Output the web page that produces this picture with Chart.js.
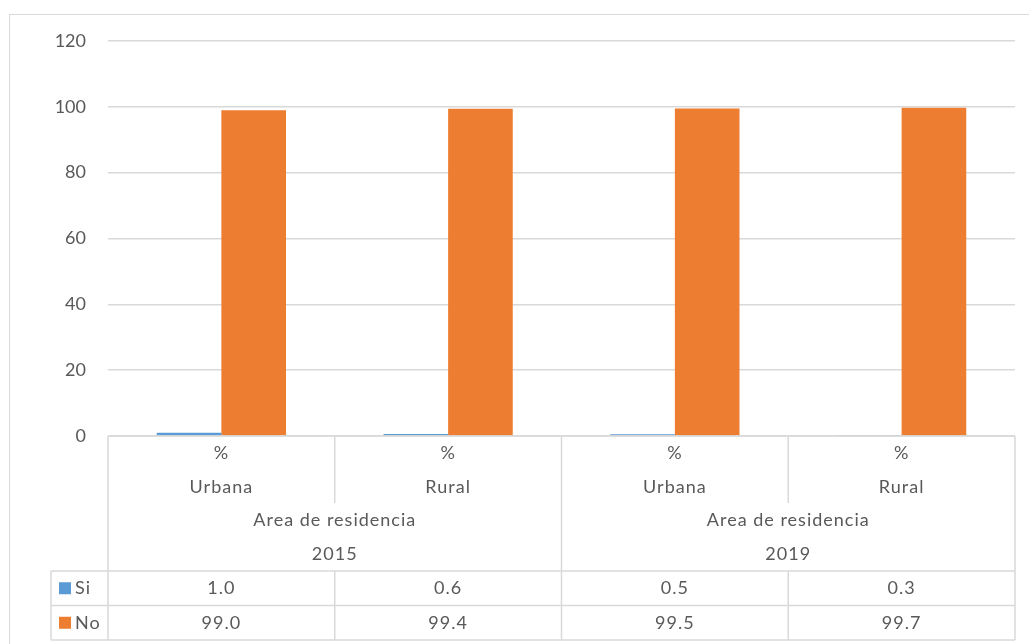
<!DOCTYPE html>
<html>
<head>
<meta charset="utf-8">
<script src="https://cdn.jsdelivr.net/npm/chart.js@4.4.0/dist/chart.umd.min.js"></script>
<style>
  body { margin: 0; background: #fff; }
  #wrap { width: 1029px; height: 644px; position: relative; }
</style>
</head>
<body>
<div id="wrap"><canvas id="grafico"></canvas></div>
<script>
// datos
var categorias = ["Urbana", "Rural", "Urbana", "Rural"];
var unidad = "%";
var grupo = "Area de residencia";
var anios = ["2015", "2019"];
var si = [1.0, 0.6, 0.5, 0.3];
var no = [99.0, 99.4, 99.5, 99.7];
var series = [
  { nombre: "Si", valores: si, color: "#5B9BD5" },
  { nombre: "No", valores: no, color: "#ED7D31" }
];

var fuente = "Lato, 'Open Sans', sans-serif";
var gris = "#595959";
var linea = "#d9d9d9";

// tabla de datos debajo del grafico (estilo Excel)
var tablaDatos = {
  id: "tablaDatos",
  afterDraw: function(chart) {
    var ctx = chart.ctx;
    var area = chart.chartArea;
    var n = categorias.length;
    var ancho = (area.right - area.left) / n;
    var top = area.bottom;
    var yMedio = top + 67;
    var yFilas = top + 135;
    var alto = 34.5;
    var yFin = yFilas + alto * series.length;
    var leyIzq = 51;

    ctx.save();
    ctx.strokeStyle = linea;
    ctx.lineWidth = 1.5;

    function ln(x1, y1, x2, y2) {
      ctx.beginPath();
      ctx.moveTo(x1, y1);
      ctx.lineTo(x2, y2);
      ctx.stroke();
    }

    // borde exterior del grafico
    ctx.lineWidth = 1;
    ctx.strokeRect(9.5, 14.5, 1025, 650);
    ctx.lineWidth = 1.5;

    // horizontales
    ln(area.left, top, area.right, top);
    ln(leyIzq, yFilas, area.right, yFilas);
    for (var r = 1; r <= series.length; r++) {
      ln(leyIzq, yFilas + alto * r, area.right, yFilas + alto * r);
    }
    // verticales
    ln(leyIzq, yFilas, leyIzq, yFin);
    for (var i = 0; i <= n; i++) {
      var x = area.left + ancho * i;
      if (i % 2 === 0) {
        ln(x, top, x, yFin);
      } else {
        ln(x, top, x, yMedio);
        ln(x, yFilas, x, yFin);
      }
    }

    ctx.fillStyle = gris;
    ctx.font = "18px " + fuente;
    ctx.letterSpacing = "1px";
    ctx.textAlign = "center";
    ctx.textBaseline = "middle";
    for (var i = 0; i < n; i++) {
      var cx = area.left + ancho * (i + 0.5);
      ctx.fillText(unidad, cx, top + 17);
      ctx.fillText(categorias[i], cx, top + 51);
      for (var s = 0; s < series.length; s++) {
        ctx.fillText(series[s].valores[i].toFixed(1), cx, yFilas + alto * (s + 0.5));
      }
    }
    for (var a = 0; a < anios.length; a++) {
      var gx = area.left + ancho * (a * 2 + 1);
      ctx.fillText(grupo, gx, top + 84);
      ctx.fillText(anios[a], gx, top + 118);
    }

    // leyenda en la tabla
    ctx.textAlign = "left";
    for (var s = 0; s < series.length; s++) {
      var cy = yFilas + alto * (s + 0.5);
      ctx.fillStyle = series[s].color;
      ctx.fillRect(59, cy - 6, 12, 12);
      ctx.fillStyle = gris;
      ctx.fillText(series[s].nombre, 75, cy);
    }
    ctx.restore();
  }
};

var ctx = document.getElementById("grafico").getContext("2d");
var miGrafico = new Chart(ctx, {
  type: "bar",
  data: {
    labels: categorias,
    datasets: series.map(function(s) {
      return {
        label: s.nombre,
        data: s.valores,
        backgroundColor: s.color,
        categoryPercentage: 0.57,
        barPercentage: 1.0
      };
    })
  },
  options: {
    responsive: true,
    maintainAspectRatio: false,
    animation: false,
    layout: { padding: { top: 41, right: 14, bottom: 208, left: 0 } },
    plugins: {
      legend: { display: false },
      tooltip: { enabled: false }
    },
    scales: {
      x: { display: false },
      y: {
        min: 0,
        max: 120,
        ticks: {
          stepSize: 20,
          color: gris,
          padding: 22,
          font: { family: fuente, size: 18 }
        },
        grid: { color: linea, lineWidth: 1.5, drawTicks: false },
        border: { display: false },
        afterFit: function(scale) { scale.width = 108; }
      }
    }
  },
  plugins: [tablaDatos]
});
</script>
</body>
</html>
